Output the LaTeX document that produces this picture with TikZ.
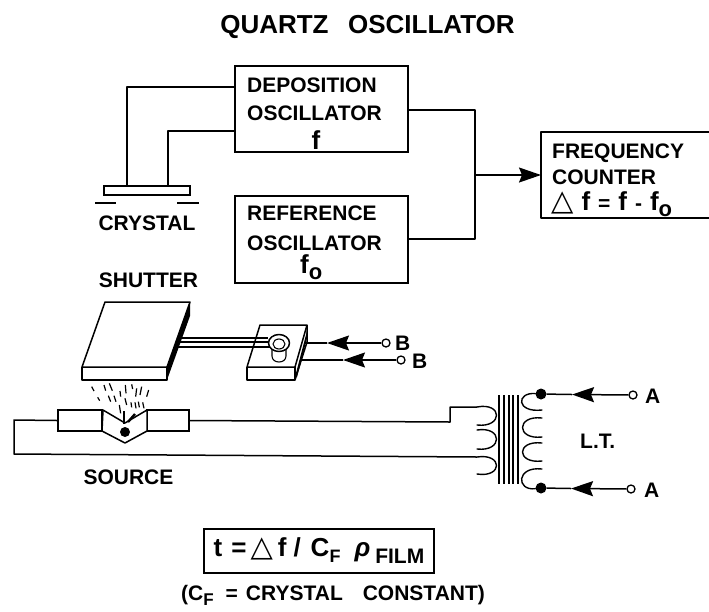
\documentclass[tikz,border=0pt]{standalone}
\usepackage{fontspec}
\setmainfont{Liberation Sans}
\newfontfamily\symfont{DejaVu Sans}
\usetikzlibrary{arrows.meta}
\newcommand{\lowsub}[3]{\raisebox{-#1pt}{\fontsize{#2}{#2}\selectfont #3}}
\newcommand{\trisym}{{\symfont\fontsize{29}{29}\selectfont △}}
\newcommand{\bigf}{{\fontsize{26}{26}\selectfont f}}
\tikzset{
  wire/.style={draw=black,line width=1.5pt,line join=round},
  thinwire/.style={draw=black,line width=1.1pt},
  box/.style={draw=black,line width=1.5pt,inner sep=0pt,fill=white},
  lab/.style={inner sep=0pt,font=\fontsize{21}{21}\selectfont\bfseries},
  lableft/.style={lab,anchor=base west},
  labmid/.style={lab,anchor=base},
  head/.style={-{Stealth[length=22pt,width=15pt,inset=3pt]}},
  term/.style={circle,draw=black,line width=1.3pt,fill=white,inner sep=0pt,minimum size=8pt},
  blob/.style={circle,fill=black,inner sep=0pt,minimum size=11pt},
  coil/.style={draw=black,line width=1.4pt,line cap=round},
}
\begin{document}
\begin{tikzpicture}[x=1pt,y=-1pt]
\useasboundingbox (0,0) rectangle (709,611);
% title
\node[labmid,font=\fontsize{26}{26}\selectfont\bfseries] (title) at (367.5,33) {QUARTZ\hspace{0.75em}OSCILLATOR};
% boxes
\node[box,minimum width=173pt,minimum height=86pt] (dep) at (321.5,109) {};
\node[box,minimum width=173pt,minimum height=87pt] (ref) at (321.5,239.5) {};
\node[lableft] (dep1) at (247,92) {DEPOSITION};
\node[lableft] (dep2) at (247,120.5) {OSCILLATOR};
\node[labmid] (dep3) at (316,149) {\bigf};
\node[lableft] (ref1) at (247,220) {REFERENCE};
\node[lableft] (ref2) at (247,250) {OSCILLATOR};
\node[lableft] (ref3) at (300,273) {\bigf\lowsub{6}{22}{o}};
% frequency counter (runs off the right edge)
\coordinate (cntTR) at (709,132);
\coordinate (cntTL) at (541,132);
\coordinate (cntBL) at (541,218);
\coordinate (cntBR) at (709,218);
\coordinate (cntIn) at (541,175);
\draw[wire] (cntTR) -- (cntTL) -- (cntBL) -- (cntBR);
\node[lableft] (cnt1) at (552,158) {FREQUENCY};
\node[lableft] (cnt2) at (552,184) {COUNTER};
\node[lableft] (cnt3) at (551,210) {\trisym\hspace{8pt}\bigf\hspace{8pt}=\hspace{8pt}\bigf\hspace{8pt}-\hspace{8pt}\bigf\lowsub{6}{22}{o}};
% crystal
\node[box,minimum width=86pt,minimum height=9pt] (xtal) at (147,190.5) {};
\coordinate (xa) at (127,186);
\coordinate (xb) at (168,186);
\coordinate (da) at (235,87);
\coordinate (db) at (235,131);
\draw[wire] (da) -- (127,87) -- (xa);
\draw[wire] (db) -- (168,131) -- (xb);
\coordinate (pl1) at (95,203);\coordinate (pl2) at (116,203);
\coordinate (pl3) at (177,203);\coordinate (pl4) at (199,203);
\draw[wire] (pl1) -- (pl2);
\draw[wire] (pl3) -- (pl4);
\node[labmid] (xlab) at (147,230) {CRYSTAL};
% oscillator outputs
\coordinate (do) at (408,110);
\coordinate (ro) at (408,239);
\coordinate (jn) at (474,175);
\draw[wire] (do) -- (475,110) -- (475,239) -- (ro);
\draw[wire,head] (jn) -- (cntIn);
% shutter
\node[labmid] (shlab) at (148.5,287) {SHUTTER};
\fill[black] (190,302) -- (190,316) -- (167,380) -- (167,367) -- cycle;
\draw[wire] (105,302) -- (190,302) -- (167,367) -- (82,367) -- cycle;
\draw[wire] (82,367) -- (82,380) -- (167,380) -- (167,367);
% arm
\draw[wire] (180,338) -- (268,338);
\draw[thinwire] (179,342) -- (268,342);
\draw[wire] (177,347) -- (270,347);
% actuator block
\fill[black] (307,331) -- (307,338) -- (297,377) -- (295,377) -- cycle;
\draw[wire] (260,325) -- (307,325) -- (295,367) -- (247,367) -- cycle;
\draw[wire] (247,367) -- (247,380) -- (295,380) -- (295,367);
\draw[wire] (307,325) -- (307,342) -- (295,380);
\draw[thinwire,fill=white] (272,345) -- (272,356) .. controls (272,364) and (286,364) .. (286,356) -- (286,345) -- cycle;
\draw[wire,fill=white] (279,343) ellipse[x radius=10.5,y radius=8.5];
\draw[thinwire] (279,344) ellipse[x radius=6,y radius=5];
% B terminals
\node[term] (b1) at (386,343) {};
\node[term] (b2) at (401,360) {};
\node[lableft] (b1l) at (395,350) {B};
\node[lableft] (b2l) at (412,368) {B};
\coordinate (bt1) at (327,343);
\coordinate (bt2) at (343,360);
\coordinate (be1) at (305,343);
\coordinate (be2) at (300,360);
\draw[wire,head] (b1) -- (bt1);
\draw[wire] (bt1) -- (be1);
\draw[wire,head] (b2) -- (bt2);
\draw[wire] (bt2) -- (be2);
% spray
\foreach \a/\b/\c/\d in {65/35/72/48,83/67/89/77,102/30/107/47,118/25/127/47,115/62/122/80,132/62/138/80,150/48/152/65,166/30/168/55,185/28/188/42,165/70/170/90,183/82/185/97,195/82/198/100,205/80/208/97,218/82/222/100,200/40/197/65,215/35/210/60,236/45/230/65,148/90/152/115,122/135/135/155,185/155/195/165}
  \draw[line width=1.2pt] ({70+\a/3},{375+\b/3}) -- ({70+\c/3},{375+\d/3});
% source
\node[box,minimum width=44pt,minimum height=21pt] (lpad) at (80,420.5) {};
\node[box,minimum width=42pt,minimum height=21pt] (rpad) at (168,420.5) {};
\draw[wire,fill=white] (103,410) -- (125,423) -- (147,410) -- (147,431) -- (125,443) -- (102,431) -- cycle;
\node[blob,minimum size=10pt] (src) at (125,432) {};
\draw[line width=2.4pt] (124,411) -- (124,424);
\draw[line width=2.4pt] (135,414) -- (128,422);
\node[labmid] (srclab) at (128.5,484) {SOURCE};
% wiring to transformer
\coordinate (p1) at (477,407);
\coordinate (p2) at (477,457);
\draw[wire] (lpad.west) -- (14,420) -- (14,454) -- (p2);
\draw[wire] (rpad.east) -- (450,422) -- (450,407) -- (p1);
% primary
\draw[coil] (p1) .. controls (503,402) and (503,428) .. (477,425);
\draw[coil] (477,430) .. controls (503,426) and (503,452) .. (477,449);
\draw[coil] (p2) .. controls (503,453) and (503,478) .. (477,474);
% core
\foreach \x in {499,504,509,513,518}
  \draw[line width=1.1pt] (\x,395) -- (\x,484);
% secondary
\node[blob] (s1) at (541,394) {};
\node[blob] (s2) at (541,488) {};
\draw[coil] (s1) .. controls (516,392) and (516,413) .. (542,410);
\draw[coil] (542,418) .. controls (516,415) and (516,440) .. (542,437);
\draw[coil] (542,443) .. controls (516,440) and (516,464) .. (542,461);
\draw[coil] (542,469) .. controls (516,466) and (516,491) .. (s2);
% A terminals
\node[term] (a1) at (633,395) {};
\node[term] (a2) at (631,489) {};
\coordinate (at1) at (572,394.5);
\coordinate (at2) at (571,488.5);
\draw[wire,head] (a1) -- (at1);
\draw[wire] (at1) -- (s1);
\draw[wire,head] (a2) -- (at2);
\draw[wire] (at2) -- (s2);
\node[lableft] (a1l) at (645,403) {A};
\node[lableft] (a2l) at (644,497) {A};
\node[lableft] (lt) at (580,448) {L.T.};
% formula
\node[box,minimum width=230pt,minimum height=44pt,font=\fontsize{26}{26}\selectfont\bfseries] (eq) at (319,551)
  {t\hspace{9pt}=\hspace{4pt}\trisym\hspace{5pt}f\hspace{7pt}/\hspace{10pt}C\lowsub{6}{18}{F}\hspace{14pt}\textit{ρ}\hspace{5pt}\lowsub{7}{21}{FILM}};
\node[lableft] (note) at (181,600) {(C\lowsub{5}{17}{F}\hspace{12pt}=\hspace{8pt}CRYSTAL\hspace{20pt}CONSTANT)};
\end{tikzpicture}
\end{document}
